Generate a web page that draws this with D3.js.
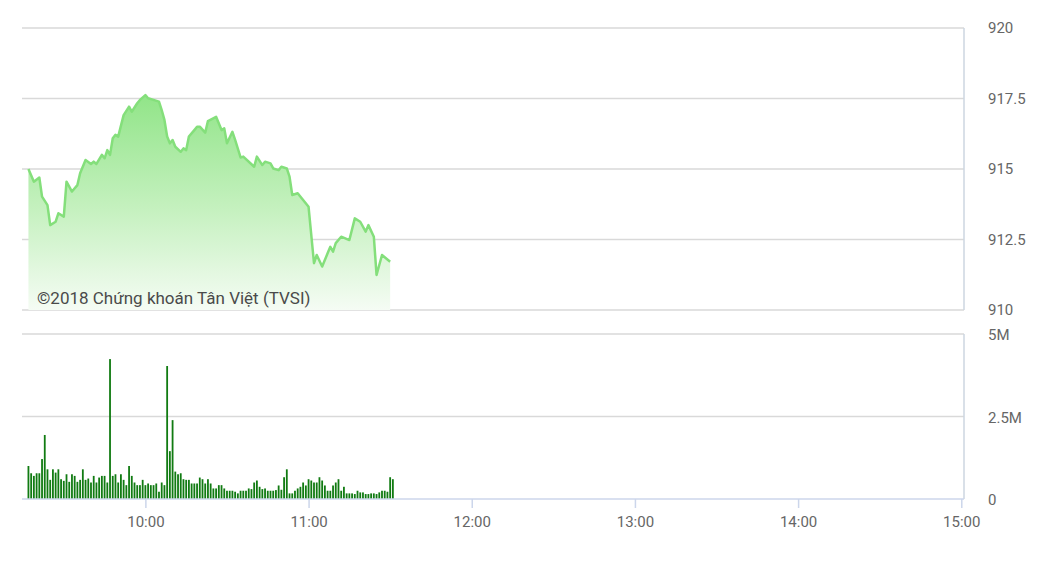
<!DOCTYPE html>
<html>
<head>
<meta charset="utf-8">
<script src="https://cdnjs.cloudflare.com/ajax/libs/d3/7.8.5/d3.min.js"></script>
<style>
  body { margin: 0; background: #fff; }
  text { font-family: Roboto, "Noto Sans", sans-serif; }
  .lbl { font-size: 15px; fill: #666; }
</style>
</head>
<body>
<div id="vis"></div>
<script>
// price samples (VN-Index, morning session)
var priceTimes = ["09:17","09:19","09:21","09:22","09:24","09:25","09:27","09:28","09:30","09:31",
  "09:33","09:35","09:36","09:38","09:40","09:41","09:42","09:44","09:45","09:46",
  "09:47","09:48","09:49","09:50","09:52","09:54","09:55","09:57","09:58","10:00",
  "10:01","10:03","10:05","10:06","10:07","10:08","10:09","10:10","10:11","10:13",
  "10:14","10:15","10:16","10:18","10:19","10:20","10:22","10:23","10:26","10:28",
  "10:29","10:30","10:32","10:33","10:35","10:36","10:40","10:41","10:43","10:44",
  "10:46","10:47","10:49","10:50","10:52","10:53","10:54","10:56","10:58","11:00",
  "11:02","11:03","11:05","11:07","11:08","11:09","11:10","11:12","11:15","11:17",
  "11:19","11:21","11:22","11:24","11:25","11:27","11:30"];
var priceValues = [915.0, 914.55, 914.70, 914.02, 913.72, 913.01, 913.13, 913.43, 913.31, 914.55,
  914.20, 914.43, 914.85, 915.32, 915.18, 915.26, 915.18, 915.50, 915.38, 915.67,
  915.50, 916.09, 916.21, 916.15, 916.91, 917.21, 917.03, 917.33, 917.45, 917.62,
  917.51, 917.45, 917.39, 917.09, 916.74, 916.15, 915.91, 916.03, 915.79, 915.61,
  915.73, 915.67, 916.15, 916.38, 916.50, 916.50, 916.29, 916.70, 916.85, 916.38,
  916.44, 915.91, 916.32, 916.03, 915.41, 915.44, 915.08, 915.44, 915.14, 915.26,
  915.20, 915.02, 914.96, 915.08, 915.02, 914.73, 914.08, 914.14, 913.90, 913.66,
  911.66, 911.95, 911.54, 912.01, 912.24, 912.07, 912.37, 912.60, 912.48, 913.25,
  913.13, 912.78, 913.01, 912.60, 911.24, 911.95, 911.71];

// volume per minute, in millions, from 09:17
var volStart = "09:17";
var volValues = [1.0, 0.78, 0.70, 0.78, 0.78, 1.21, 1.94, 0.9, 0.58, 0.9,
  0.8, 0.9, 0.6, 0.55, 0.75, 0.52, 0.75, 0.70, 0.52, 0.58,
  0.9, 0.58, 0.62, 0.5, 0.70, 0.5, 0.65, 0.70, 0.70, 0.5,
  4.24,
  0.70, 0.75, 0.5, 0.75, 0.58, 0.42, 1.0, 0.70, 0.5, 0.42,
  0.42, 0.58, 0.42, 0.47, 0.42, 0.42, 0.47, 0.22, 0.5, 0.42,
  4.03, 1.45, 2.39,
  0.83, 0.75, 0.78, 0.6, 0.58, 0.58, 0.47, 0.47, 0.47, 0.65,
  0.6, 0.47, 0.6, 0.47, 0.32, 0.32, 0.42, 0.42,
  0.32, 0.25, 0.25, 0.25, 0.22, 0.17, 0.25, 0.25, 0.25, 0.32,
  0.3, 0.5, 0.56, 0.37, 0.3, 0.32, 0.25, 0.25, 0.25, 0.27,
  0.41, 0.28, 0.66, 0.9, 0.17, 0.17, 0.25, 0.32, 0.37, 0.5,
  0.41, 0.6, 0.56, 0.5, 0.5, 0.66, 0.56, 0.41, 0.25, 0.25,
  0.41, 0.5, 0.6, 0.25, 0.37, 0.17, 0.17, 0.17, 0.15, 0.25,
  0.2, 0.2, 0.15, 0.15, 0.17, 0.17, 0.15, 0.2, 0.25, 0.25,
  0.22, 0.66, 0.6];

var xTicks = ["10:00", "11:00", "12:00", "13:00", "14:00", "15:00"];
var priceTicks = [910, 912.5, 915, 917.5, 920];
var volTicks = [0, 2.5, 5];
var volTickLabels = ["0", "2.5M", "5M"];
var credit = "©2018 Chứng khoán Tân Việt (TVSI)";

var width = 1038, height = 583;
var left = 23, right = 964;
var pTop = 28, pBottom = 310;
var vTop = 334, vBottom = 499;

var parse = d3.timeParse("%H:%M");
var fmt = d3.timeFormat("%H:%M");

var svg = d3.select('#vis').append('svg')
  .attr('width', width)
  .attr('height', height);

var x = d3.scaleTime()
  .domain([parse("09:15"), parse("15:01")])
  .range([left, right]);

var yP = d3.scaleLinear().domain([910, 920]).range([pBottom, pTop]);
var yV = d3.scaleLinear().domain([0, 5]).range([vBottom, vTop]);

var price = priceTimes.map(function(t, i) { return { t: parse(t), v: priceValues[i] }; });
var t0 = parse(volStart);
var vol = volValues.map(function(v, i) { return { t: d3.timeMinute.offset(t0, i), v: v }; });

// gradient for the area
var defs = svg.append('defs');
var grad = defs.append('linearGradient')
  .attr('id', 'pfill')
  .attr('gradientUnits', 'userSpaceOnUse')
  .attr('x1', 0).attr('x2', 0)
  .attr('y1', yP(917.8)).attr('y2', yP(910));
grad.append('stop').attr('offset', '0%').attr('stop-color', '#8fe486');
grad.append('stop').attr('offset', '55%').attr('stop-color', '#c6f1c0');
grad.append('stop').attr('offset', '100%').attr('stop-color', '#f5fcf4');

// price grid
svg.append('g').selectAll('line')
  .data(priceTicks)
  .enter().append('line')
  .attr('x1', left - 1).attr('x2', right)
  .attr('y1', function(d) { return yP(d); })
  .attr('y2', function(d) { return yP(d); })
  .attr('stroke', '#d9d9d9')
  .attr('stroke-width', 1.5);

svg.append('line')
  .attr('x1', right).attr('x2', right)
  .attr('y1', yP(920)).attr('y2', yP(910))
  .attr('stroke', '#ccd6e0').attr('stroke-width', 1.5);

// price area + line
var area = d3.area()
  .x(function(d) { return x(d.t); })
  .y0(yP(910))
  .y1(function(d) { return yP(d.v); });

var line = d3.line()
  .x(function(d) { return x(d.t); })
  .y(function(d) { return yP(d.v); });

svg.append('path')
  .datum(price)
  .attr('d', area)
  .attr('fill', 'url(#pfill)');

svg.append('path')
  .datum(price)
  .attr('d', line)
  .attr('fill', 'none')
  .attr('stroke', '#84df7b')
  .attr('stroke-width', 2.5)
  .attr('stroke-linejoin', 'round');

svg.append('text')
  .attr('x', 37)
  .attr('y', 304)
  .style('font-size', '17px')
  .style('fill', '#4a4a4a')
  .text(credit);

// price labels
var pAxis = d3.axisRight(yP).tickValues(priceTicks).tickSize(0).tickPadding(24)
  .tickFormat(function(d) { return d; });
var gp = svg.append('g')
  .attr('transform', 'translate(' + right + ',0)')
  .call(pAxis);
gp.select('.domain').remove();
gp.selectAll('text').attr('class', 'lbl').attr('fill', null);

// volume grid
svg.append('g').selectAll('line')
  .data(volTicks.slice(1))
  .enter().append('line')
  .attr('x1', left - 1).attr('x2', right)
  .attr('y1', function(d) { return yV(d); })
  .attr('y2', function(d) { return yV(d); })
  .attr('stroke', '#d9d9d9')
  .attr('stroke-width', 1.5);

svg.append('line')
  .attr('x1', right).attr('x2', right)
  .attr('y1', yV(5)).attr('y2', yV(0))
  .attr('stroke', '#ccd6e0').attr('stroke-width', 1.5);

// volume bars
svg.append('g').selectAll('rect')
  .data(vol)
  .enter().append('rect')
  .attr('x', function(d) { return x(d.t) - 0.9; })
  .attr('width', 1.8)
  .attr('y', function(d) { return yV(d.v); })
  .attr('height', function(d) { return yV(0) - yV(d.v); })
  .attr('fill', '#117b12');

var vAxis = d3.axisRight(yV).tickValues(volTicks).tickSize(0).tickPadding(24)
  .tickFormat(function(d, i) { return volTickLabels[i]; });
var gv = svg.append('g')
  .attr('transform', 'translate(' + right + ',1)')
  .call(vAxis);
gv.select('.domain').remove();
gv.selectAll('text').attr('class', 'lbl').attr('fill', null);

// time axis
var xAxis = d3.axisBottom(x)
  .tickValues(xTicks.map(parse))
  .tickFormat(fmt)
  .tickSize(9)
  .tickSizeOuter(0)
  .tickPadding(8);
var gx = svg.append('g')
  .attr('transform', 'translate(0,' + vBottom + ')')
  .call(xAxis);
gx.select('.domain').attr('stroke', '#ccd6eb').attr('stroke-width', 1.5)
  .attr('d', 'M' + (left - 1) + ',0H' + right);
gx.selectAll('.tick line').attr('stroke', '#ccd6eb').attr('stroke-width', 1.5);
gx.selectAll('text').attr('class', 'lbl').attr('fill', null).style('font-size', '15px');
</script>
</body>
</html>
